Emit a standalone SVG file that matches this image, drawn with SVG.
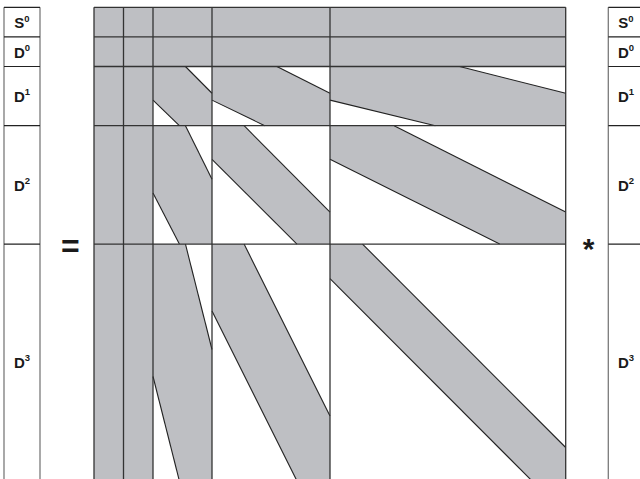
<svg xmlns="http://www.w3.org/2000/svg" width="640" height="479" viewBox="0 0 640 479">
<style>
.lbl{font-family:"Liberation Sans",Arial,sans-serif;font-weight:bold;font-size:15px;fill:#1a1a1a;text-anchor:middle}
.sup{font-size:9.5px}
.op{font-family:"Liberation Sans",Arial,sans-serif;font-weight:bold;fill:#1a1a1a;text-anchor:middle}
.vl{stroke:#7a7a7a;stroke-width:1.3;fill:none}
.hl{stroke:#222;stroke-width:1.2;fill:none}
.grid{stroke:#333;stroke-width:1.3;fill:none}
.band{stroke:#222;stroke-width:1.1;fill:none}
.gray{fill:#bebfc3}
.hole{fill:#ffffff}
</style>
<rect x="0" y="0" width="640" height="479" fill="#ffffff"/>

<g id="lhs-vector">
  <line class="vl" x1="4" y1="7.3" x2="4" y2="481"/>
  <line class="vl" x1="40" y1="7.3" x2="40" y2="481"/>
  <line class="hl" x1="4" y1="7.3" x2="40" y2="7.3"/>
  <line class="hl" x1="4" y1="36.9" x2="40" y2="36.9"/>
  <line class="hl" x1="4" y1="66.5" x2="40" y2="66.5"/>
  <line class="hl" x1="4" y1="125.7" x2="40" y2="125.7"/>
  <line class="hl" x1="4" y1="244.1" x2="40" y2="244.1"/>
  <g id="lhs-S0"><text class="lbl" x="22" y="28">S<tspan class="sup" dy="-6.5">0</tspan></text></g>
  <g id="lhs-D0"><text class="lbl" x="22" y="57.5">D<tspan class="sup" dy="-6.5">0</tspan></text></g>
  <g id="lhs-D1"><text class="lbl" x="22" y="101.5">D<tspan class="sup" dy="-6.5">1</tspan></text></g>
  <g id="lhs-D2"><text class="lbl" x="22" y="190.5">D<tspan class="sup" dy="-6.5">2</tspan></text></g>
  <g id="lhs-D3"><text class="lbl" x="22" y="367.5">D<tspan class="sup" dy="-6.5">3</tspan></text></g>
</g>

<g id="equals"><text class="op" x="70.4" y="256.5" font-size="32">=</text></g>

<g id="matrix">
  <rect class="gray" x="94" y="7.3" width="471.7" height="473.6"/>
  <polygon class="hole" points="185.45,66.5 212,66.5 212,93.26"/>
  <polygon class="hole" points="153,100.13 153,125.7 179.37,125.7"/>
  <polygon class="hole" points="276.9,66.5 330,66.5 330,93.26"/>
  <polygon class="hole" points="212,100.13 212,125.7 264.75,125.7"/>
  <polygon class="hole" points="459.64,66.5 565.7,66.5 565.7,93.26"/>
  <polygon class="hole" points="330,100.13 330,125.7 435.36,125.7"/>
  <polygon class="hole" points="185.45,125.7 212,125.7 212,179.22"/>
  <polygon class="hole" points="153,192.95 153,244.1 179.37,244.1"/>
  <polygon class="hole" points="244.1,125.7 330,125.7 330,212.1"/>
  <polygon class="hole" points="212,159.3 212,244.1 296.96,244.1"/>
  <polygon class="hole" points="394.11,125.7 565.7,125.7 565.7,212.1"/>
  <polygon class="hole" points="330,159.3 330,244.1 499.7,244.1"/>
  <polygon class="hole" points="185.45,244.1 212,244.1 212,349.5"/>
  <polygon class="hole" points="153,376.5 153,480.9 179.37,480.9"/>
  <polygon class="hole" points="244.1,244.1 330,244.1 330,416"/>
  <polygon class="hole" points="212,311 212,480.9 296.96,480.9"/>
  <polygon class="hole" points="362.53,244.1 565.7,244.1 565.7,447.5"/>
  <polygon class="hole" points="330,278.6 330,480.9 531.99,480.9"/>
  <g id="band-lines">
    <line class="band" x1="185.45" y1="66.5" x2="212" y2="93.26"/>
    <line class="band" x1="153" y1="100.13" x2="179.37" y2="125.7"/>
    <line class="band" x1="276.9" y1="66.5" x2="330" y2="93.26"/>
    <line class="band" x1="212" y1="100.13" x2="264.75" y2="125.7"/>
    <line class="band" x1="459.64" y1="66.5" x2="565.7" y2="93.26"/>
    <line class="band" x1="330" y1="100.13" x2="435.36" y2="125.7"/>
    <line class="band" x1="185.45" y1="125.7" x2="212" y2="179.22"/>
    <line class="band" x1="153" y1="192.95" x2="179.37" y2="244.1"/>
    <line class="band" x1="244.1" y1="125.7" x2="330" y2="212.1"/>
    <line class="band" x1="212" y1="159.3" x2="296.96" y2="244.1"/>
    <line class="band" x1="394.11" y1="125.7" x2="565.7" y2="212.1"/>
    <line class="band" x1="330" y1="159.3" x2="499.7" y2="244.1"/>
    <line class="band" x1="185.45" y1="244.1" x2="212" y2="349.5"/>
    <line class="band" x1="153" y1="376.5" x2="179.37" y2="480.9"/>
    <line class="band" x1="244.1" y1="244.1" x2="330" y2="416"/>
    <line class="band" x1="212" y1="311" x2="296.96" y2="480.9"/>
    <line class="band" x1="362.53" y1="244.1" x2="565.7" y2="447.5"/>
    <line class="band" x1="330" y1="278.6" x2="531.99" y2="480.9"/>
  </g>
  <g id="grid">
    <line class="grid" x1="94" y1="7.3" x2="94" y2="481"/>
    <line class="grid" x1="123.5" y1="7.3" x2="123.5" y2="481"/>
    <line class="grid" x1="153" y1="7.3" x2="153" y2="481"/>
    <line class="grid" x1="212" y1="7.3" x2="212" y2="481"/>
    <line class="grid" x1="330" y1="7.3" x2="330" y2="481"/>
    <line class="grid" x1="565.7" y1="7.3" x2="565.7" y2="481"/>
    <line class="grid" x1="94" y1="7.3" x2="565.7" y2="7.3"/>
    <line class="grid" x1="94" y1="36.9" x2="565.7" y2="36.9"/>
    <line class="grid" x1="94" y1="66.5" x2="565.7" y2="66.5"/>
    <line class="grid" x1="94" y1="125.7" x2="565.7" y2="125.7"/>
    <line class="grid" x1="94" y1="244.1" x2="565.7" y2="244.1"/>
  </g>
</g>

<g id="times"><text class="op" x="588.5" y="259" font-size="30">*</text></g>

<g id="rhs-vector">
  <line class="vl" x1="608.3" y1="7.3" x2="608.3" y2="481"/>
  <line class="hl" x1="608.3" y1="7.3" x2="641" y2="7.3"/>
  <line class="hl" x1="608.3" y1="36.9" x2="641" y2="36.9"/>
  <line class="hl" x1="608.3" y1="66.5" x2="641" y2="66.5"/>
  <line class="hl" x1="608.3" y1="125.7" x2="641" y2="125.7"/>
  <line class="hl" x1="608.3" y1="244.1" x2="641" y2="244.1"/>
  <g id="rhs-S0"><text class="lbl" x="626" y="28">S<tspan class="sup" dy="-6.5">0</tspan></text></g>
  <g id="rhs-D0"><text class="lbl" x="626" y="57.5">D<tspan class="sup" dy="-6.5">0</tspan></text></g>
  <g id="rhs-D1"><text class="lbl" x="626" y="101.5">D<tspan class="sup" dy="-6.5">1</tspan></text></g>
  <g id="rhs-D2"><text class="lbl" x="626" y="190.5">D<tspan class="sup" dy="-6.5">2</tspan></text></g>
  <g id="rhs-D3"><text class="lbl" x="626" y="367.5">D<tspan class="sup" dy="-6.5">3</tspan></text></g>
</g>
</svg>
